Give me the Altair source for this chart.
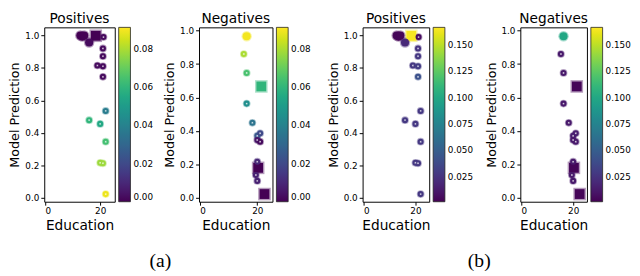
import altair as alt
import pandas as pd

# ---------------- data ----------------
# Positives panels (same points in (a) and (b), different colour values)
pos_x = [18.4, 12.8, 13.5, 14.2, 16.0, 21.2, 21.0, 21.0, 19.0, 21.0, 21.0, 22.0, 16.0, 20.0, 22.0, 20.0, 21.0, 22.0]
pos_y = [0.998, 1.0, 0.993, 1.0, 0.957, 0.99, 0.92, 0.872, 0.815, 0.81, 0.745, 0.535, 0.478, 0.455, 0.345, 0.215, 0.212, 0.022]
pos_kind = ["box", "dot", "dot", "dot", "dot"] + ["ring"] * 13
pos_val_a = [0.0, 0.0, 0.0, 0.0, 0.002, 0.002, 0.002, 0.002, 0.002, 0.002, 0.002,
             0.038, 0.060, 0.055, 0.064, 0.078, 0.078, 0.089]
pos_val_b = [0.165, 0.003, 0.003, 0.003, 0.020, 0.006, 0.026, 0.028, 0.028, 0.030, 0.042,
             0.028, 0.028, 0.028, 0.028, 0.028, 0.028, 0.028]

# Negatives panels
neg_x = [21.4, 20.3, 22.5, 16.3, 15.3, 16.3, 16.3, 18.3, 20.0, 21.0, 20.0, 21.0, 20.0, 19.5, 20.0]
neg_y = [0.666, 0.178, 0.021, 0.967, 0.86, 0.747, 0.563, 0.448, 0.37, 0.385, 0.345, 0.335, 0.215, 0.135, 0.1]
neg_kind = ["box", "box", "box", "dot", "ring", "ring", "ring", "ring", "ring", "ring", "ring", "ring",
            "ring", "ring", "ring"]
neg_val_a = [0.060, 0.0, 0.0, 0.090, 0.080, 0.065, 0.045, 0.035, 0.025, 0.020, 0.005, 0.002,
             0.010, 0.008, 0.008]
neg_val_b = [0.003, 0.003, 0.003, 0.100, 0.012, 0.012, 0.012, 0.012, 0.014, 0.014, 0.012, 0.012,
             0.012, 0.012, 0.012]

x_ticks = [0, 20]
y_ticks = [0.0, 0.2, 0.4, 0.6, 0.8, 1.0]
cbar_a_domain = [0.0, 0.0915]
cbar_a_ticks = [0.0, 0.02, 0.04, 0.06, 0.08]
cbar_b_domain = [0.0014, 0.1668]
cbar_b_ticks = [0.025, 0.05, 0.075, 0.1, 0.125, 0.15]

FONT = "DejaVu Sans"
H = 178


def panel(xs, ys, kinds, vals, title, cdomain, cticks, cfmt, ydomain, width):
    df = pd.DataFrame({"x": xs, "y": ys, "kind": kinds, "v": vals})
    xenc = alt.X("x:Q", scale=alt.Scale(domain=[-0.3, 25.3], nice=False, zero=False),
                 axis=alt.Axis(values=x_ticks, format="d", title="Education", titleFontSize=14))
    yenc = alt.Y("y:Q", scale=alt.Scale(domain=ydomain, nice=False, zero=False),
                 axis=alt.Axis(values=y_ticks, format=".1f", title="Model Prediction", titleFontSize=13))
    legend = alt.Legend(title=None, orient="right", direction="vertical", gradientLength=H,
                        gradientThickness=12, values=cticks, format=cfmt, labelFontSize=9,
                        labelFont=FONT, labelColor="black", offset=4, padding=0, labelOffset=3,
                        labelOverlap=False, gradientStrokeColor="#222", gradientStrokeWidth=0.8)
    cenc = alt.Color("v:Q", scale=alt.Scale(scheme="viridis", domain=cdomain, clamp=True), legend=legend)
    shape = alt.Shape("kind:N", scale=alt.Scale(domain=["box", "dot", "ring"],
                                                range=["square", "circle", "circle"]), legend=None)
    base = alt.Chart(df)
    halo = base.mark_point(filled=True, fillOpacity=0.4, strokeWidth=0).encode(
        x=xenc, y=yenc, color=cenc, shape=shape,
        size=alt.Size("kind:N", scale=alt.Scale(domain=["box", "dot", "ring"], range=[165, 62, 42]),
                      legend=None))
    main = base.mark_point(filled=True, opacity=1, strokeWidth=0).encode(
        x=xenc, y=yenc, color=cenc, shape=shape,
        size=alt.Size("kind:N", scale=alt.Scale(domain=["box", "dot", "ring"], range=[100, 38, 24]),
                      legend=None))
    cross = base.transform_filter(alt.datum.kind == "ring").mark_point(
        shape="cross", angle=45, filled=True, color="white", size=4, opacity=0.75, strokeWidth=0
    ).encode(x=xenc, y=yenc)
    return alt.layer(halo, main, cross).resolve_scale(size="independent").properties(
        width=width, height=H,
        title=alt.TitleParams(title, font=FONT, fontSize=14, fontWeight="normal", color="black",
                              offset=1, anchor="middle"))


p1 = panel(pos_x, pos_y, pos_kind, pos_val_a, "Positives", cbar_a_domain, cbar_a_ticks, ".2f",
           [-0.025, 1.05], 72)
p2 = panel(neg_x, neg_y, neg_kind, neg_val_a, "Negatives", cbar_a_domain, cbar_a_ticks, ".2f",
           [-0.025, 1.02], 75)
p3 = panel(pos_x, pos_y, pos_kind, pos_val_b, "Positives", cbar_b_domain, cbar_b_ticks, ".3f",
           [-0.025, 1.05], 68)
p4 = panel(neg_x, neg_y, neg_kind, neg_val_b, "Negatives", cbar_b_domain, cbar_b_ticks, ".3f",
           [-0.025, 1.02], 68)


def caption(t):
    return alt.TitleParams(t, orient="bottom", anchor="middle", font="Liberation Serif", fontSize=20,
                           fontWeight="normal", color="black", offset=19)


res = dict(color="independent", size="independent", shape="independent", x="independent", y="independent")
ga = alt.hconcat(p1, p2, spacing=8).resolve_scale(**res).resolve_legend(color="independent").properties(
    title=caption("(a)"))
gb = alt.hconcat(p3, p4, spacing=10).resolve_scale(**res).resolve_legend(color="independent").properties(
    title=caption("(b)"))

chart = alt.hconcat(ga, gb, spacing=14).resolve_scale(**res).resolve_legend(color="independent").properties(
    padding=0
).configure_view(stroke="black", strokeWidth=1).configure_axis(
    grid=False, domain=False, labelFont=FONT, labelFontSize=9, labelColor="black", tickColor="black",
    tickSize=3.5, labelPadding=2, titleFont=FONT, titleFontWeight="normal", titleColor="black",
    titlePadding=3
)

chart.save("out.html", embed_options={"renderer": "svg", "actions": False})
